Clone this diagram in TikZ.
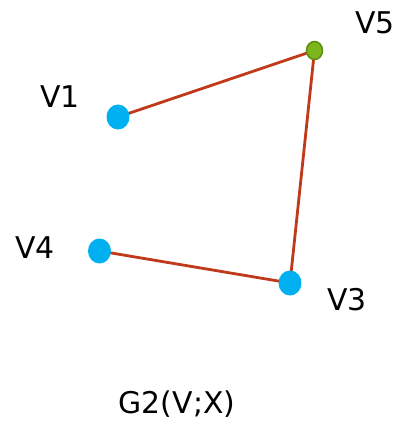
\documentclass[tikz,border=0pt]{standalone}
\usepackage{fontspec}
\setmainfont{DejaVu Sans}
\usetikzlibrary{shapes.geometric}
\definecolor{dotblue}{HTML}{00B0F0}
\definecolor{dotgreen}{HTML}{7CB51C}
\definecolor{dotgreenline}{HTML}{5E8C12}
\definecolor{edgered}{HTML}{C0391B}
\begin{document}
\begin{tikzpicture}[x=1bp,y=-1bp,
  bluedot/.style={ellipse,fill=dotblue,minimum width=23bp,minimum height=25bp,inner sep=0pt},
  greendot/.style={ellipse,draw=dotgreenline,line width=1.5bp,fill=dotgreen,minimum width=16bp,minimum height=18bp,inner sep=0pt},
  edge/.style={draw=edgered,line width=2.8bp},
  lbl/.style={font=\fontsize{30}{34}\selectfont,inner sep=0pt}]
\useasboundingbox (0,0) rectangle (400,425);
\coordinate (c1) at (118,117);
\coordinate (c5) at (314.5,50.5);
\coordinate (c4) at (99.5,251);
\coordinate (c3) at (290,283);
\draw[edge] (c1) -- (c5);
\draw[edge] (c5) -- (c3);
\draw[edge] (c4) -- (c3);
\node[bluedot] (v1) at (c1) {};
\node[bluedot] (v4) at (c4) {};
\node[bluedot] (v3) at (c3) {};
\node[greendot] (v5) at (c5) {};
\node[lbl] (l5) at (375,23) {V5};
\node[lbl] (l1) at (60,97) {V1};
\node[lbl] (l4) at (35,248) {V4};
\node[lbl] (l3) at (347,300) {V3};
\node[lbl] (g) at (177,404) {G2(V;X)};
\end{tikzpicture}
\end{document}
